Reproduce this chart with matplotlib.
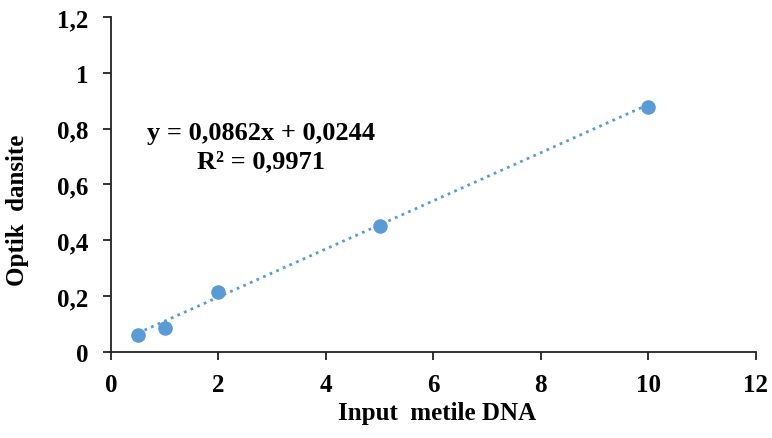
import matplotlib.pyplot as plt
import numpy as np

# input methylated DNA vs optical density
dna_input = [0.5, 1, 2, 5, 10]
optical_density = [0.061, 0.085, 0.216, 0.451, 0.879]

# linear trendline coefficients
slope = 0.0862
intercept = 0.0244
r_squared = 0.9971

x_ticks = [0, 2, 4, 6, 8, 10, 12]
y_ticks = [0, 0.2, 0.4, 0.6, 0.8, 1.0, 1.2]
y_tick_labels = ["0", "0,2", "0,4", "0,6", "0,8", "1", "1,2"]

plt.rcParams['font.family'] = ['Liberation Serif', 'DejaVu Serif']
plt.rcParams['font.weight'] = 'bold'

fig = plt.figure(figsize=(7.72, 4.39), dpi=100)
ax = fig.add_axes([0.1438, 0.196, 0.8352, 0.763])

blue = '#5B9BD5'
xs = np.array([min(dna_input), max(dna_input)])
ax.plot(xs, slope * xs + intercept, linestyle=(0, (1, 1.6)), color=blue, linewidth=2.0)
ax.plot(dna_input, optical_density, 'o', color=blue, markersize=10.5, markeredgewidth=0)

ax.set_xlim(0, 12)
ax.set_ylim(0, 1.2)
ax.set_xticks(x_ticks)
ax.set_xticklabels([str(t) for t in x_ticks])
ax.set_yticks(y_ticks)
ax.set_yticklabels(y_tick_labels)

for side in ['top', 'right']:
    ax.spines[side].set_visible(False)
for side in ['left', 'bottom']:
    ax.spines[side].set_linewidth(1.3)
    ax.spines[side].set_color('#222222')
ax.tick_params(direction='out', length=6, width=1.3, color='#222222', labelsize=18)
ax.tick_params(axis='x', pad=9)
ax.tick_params(axis='y', pad=10.5)

ax.set_xlabel("Input  metile DNA", fontsize=18, fontweight='bold')
ax.set_ylabel("Optik  dansite", fontsize=18, fontweight='bold')
ax.xaxis.set_label_coords(0.506, -0.147)
ax.yaxis.set_label_coords(-0.127, 0.427)

eq = "y = {:.4f}x + {:.4f}".format(slope, intercept).replace('.', ',')
r2 = "R² = {:.4f}".format(r_squared).replace('.', ',')
ax.text(2.8, 0.788, eq, ha='center', va='center', fontsize=19, fontweight='bold')
ax.text(2.8, 0.684, r2, ha='center', va='center', fontsize=19, fontweight='bold')

fig.savefig("out.png", dpi=100)
